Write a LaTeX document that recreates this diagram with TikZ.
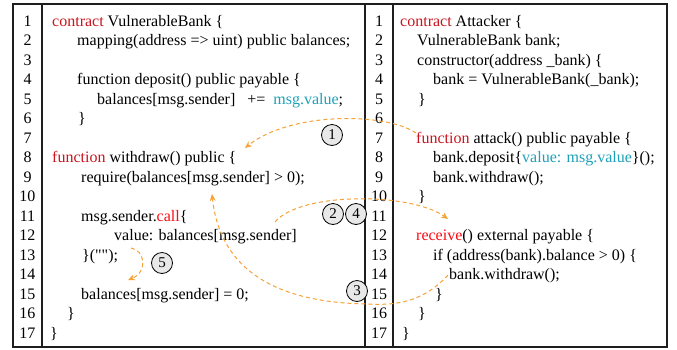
\documentclass[tikz,border=0pt]{standalone}
\usepackage{fontspec}
\newfontfamily\codefont{Liberation Serif}
\usetikzlibrary{arrows.meta}
\definecolor{kwred}{RGB}{200,20,30}
\definecolor{callred}{RGB}{250,10,20}
\definecolor{valteal}{RGB}{30,160,185}
\definecolor{flow}{RGB}{245,162,55}
\definecolor{rulecol}{RGB}{30,30,30}
\definecolor{badgefill}{RGB}{232,232,232}
\newcommand{\kw}[1]{\textcolor{kwred}{#1}}
\newcommand{\hot}[1]{\textcolor{callred}{#1}}
\newcommand{\val}[1]{\textcolor{valteal}{#1}}
\begin{document}
\begin{tikzpicture}[x=1pt,y=-1pt,
  code/.style={anchor=base west, inner sep=0pt, font=\codefont\fontsize{16}{19}\selectfont},
  lineno/.style={anchor=base, inner sep=0pt, font=\codefont\fontsize{16}{19}\selectfont},
  frame/.style={draw=rulecol, line width=1.1pt},
  flowarrow/.style={draw=flow, line width=1pt, dash pattern=on 4pt off 3pt,
                    -{Stealth[length=7pt,width=6pt]}},
  badge/.style={circle, draw=black, line width=0.8pt, fill=badgefill,
                minimum size=21pt, inner sep=0pt,
                font=\codefont\fontsize{15}{18}\selectfont}]
\useasboundingbox (0,0) rectangle (677,349);

% table frame and column rules
\draw[frame] (13,4) rectangle (667,347);
\draw[frame] (42,4) -- (42,347);
\draw[frame] (365,4) -- (365,347);
\draw[frame] (393,4) -- (393,347);

% line numbers
\foreach \i in {1,...,17} {
  \node[lineno] (ln\i) at (27.5,{26+(\i-1)*19.5}) {\i};
  \node[lineno] (rn\i) at (379,{26+(\i-1)*19.5}) {\i};
}

% VulnerableBank
\node[code] (L1)  at (52,26)    {\kw{contract} VulnerableBank \{};
\node[code] (L2)  at (77,45.5)  {mapping(address => uint) public balances;};
\node[code] (L4)  at (77,84.5)  {function deposit() public payable \{};
\node[code] (L5)  at (97,104)   {balances[msg.sender]\hspace{12pt}+=\hspace{8pt}\val{msg.value};};
\node[code] (L6)  at (78,123.5) {\}};
\node[code] (L8)  at (52,162.5) {\kw{function} withdraw() public \{};
\node[code] (L9)  at (81,182)   {require(balances[msg.sender] > 0);};
\node[code] (L11) at (81,221)   {msg.sender.\hot{call}\{};
\node[code] (L12) at (114,240.5){value: balances[msg.sender]};
\node[code] (L13) at (82,260)   {\}("");};
\node[code] (L15) at (81,299)   {balances[msg.sender] = 0;};
\node[code] (L16) at (67,318.5) {\}};
\node[code] (L17) at (50,338)   {\}};

% Attacker
\node[code] (R1)  at (400,26)    {\kw{contract} Attacker \{};
\node[code] (R2)  at (417,45.5)  {VulnerableBank bank;};
\node[code] (R3)  at (417,65)    {constructor(address \_bank) \{};
\node[code] (R4)  at (433,84.5)  {bank = VulnerableBank(\_bank);};
\node[code] (R5)  at (418,104)   {\}};
\node[code] (R7)  at (416,143)   {\kw{function} attack() public payable \{};
\node[code] (R8)  at (433,162.5) {bank.deposit\{\val{value: msg.value}\}();};
\node[code] (R9)  at (433,182)   {bank.withdraw();};
\node[code] (R10) at (418,201.5) {\}};
\node[code] (R12) at (416,240.5) {\hot{receive}() external payable \{};
\node[code] (R13) at (433,260)   {if (address(bank).balance > 0) \{};
\node[code] (R14) at (449,279.5) {bank.withdraw();};
\node[code] (R15) at (435,299)   {\}};
\node[code] (R16) at (418,318.5) {\}};
\node[code] (R17) at (402,338)   {\}};

% step badges
\node[badge] (s1) at (332,135) {1};
\node[badge] (s2) at (333,214) {2};
\node[badge] (s4) at (356,214) {4};
\node[badge] (s3) at (357,291) {3};
\node[badge] (s5) at (162,263) {5};

% call-flow ends
\coordinate (f1a) at (416,133);
\coordinate (f1b) at (245,148);
\coordinate (f2a) at (275,222);
\coordinate (f2b) at (448,219);
\coordinate (f3a) at (448,275);
\coordinate (f3m) at (367,304);
\coordinate (f3b) at (212,194);
\coordinate (f5a) at (131,248);
\coordinate (f5b) at (128,280);

% call flow
\draw[flowarrow] (f1a) .. controls (385,112) and (290,112) .. (f1b);
\draw[flowarrow] (f2a) .. controls (300,192) and (410,192) .. (f2b);
\draw[flowarrow] (f3a) .. controls (425,300) and (400,306) .. (f3m)
                       .. controls (310,303) and (222,290) .. (f3b);
\draw[flowarrow] (f5a) .. controls (145,250) and (148,272) .. (f5b);
\end{tikzpicture}
\end{document}
